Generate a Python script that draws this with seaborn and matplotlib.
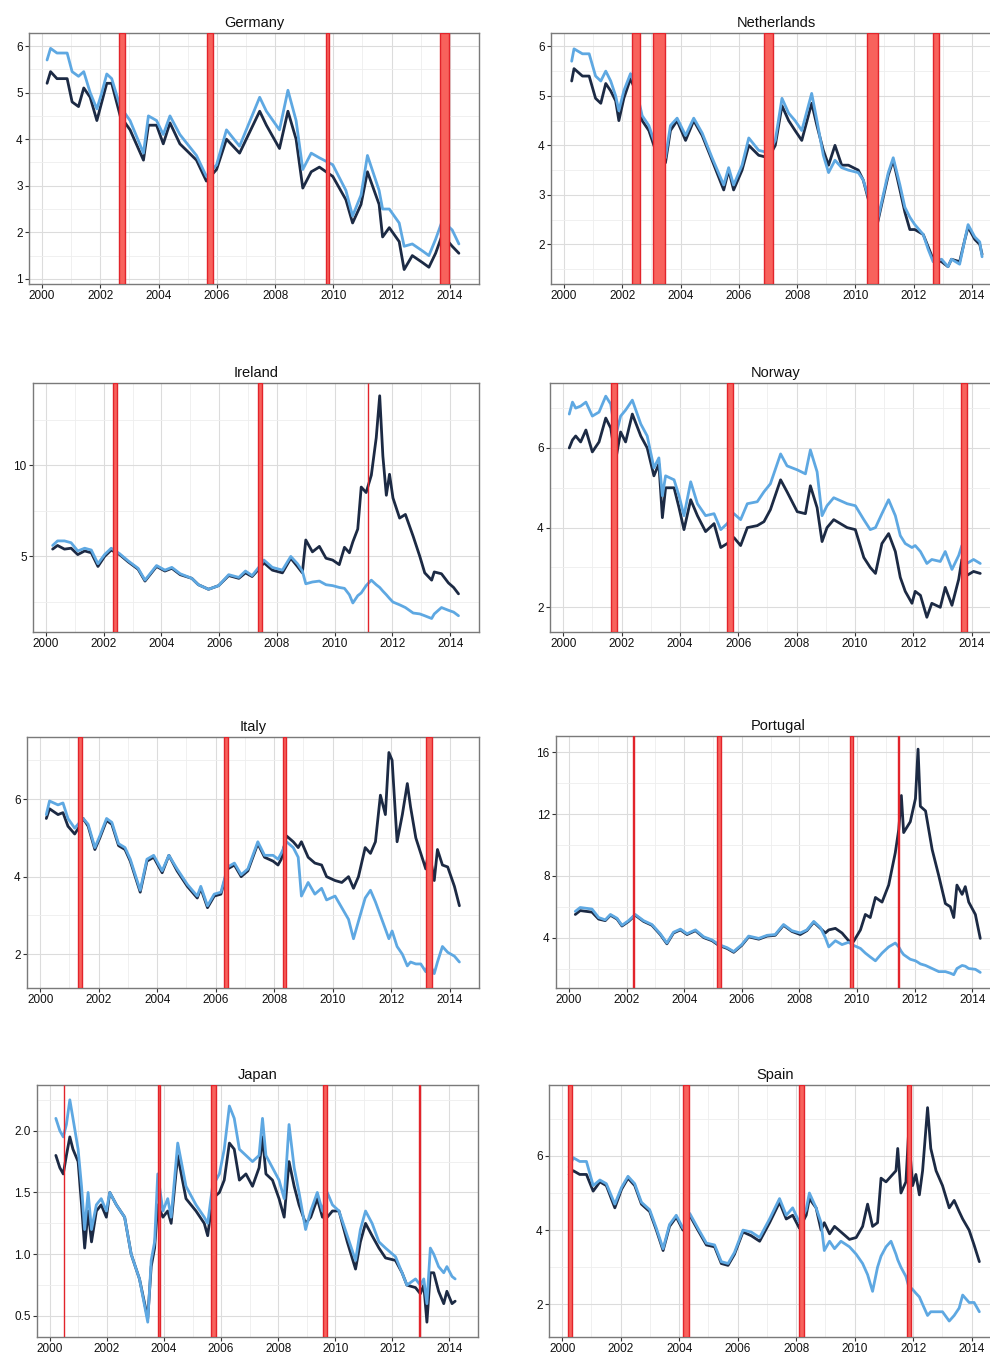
import matplotlib
matplotlib.use("Agg")
import matplotlib.pyplot as plt
import seaborn as sns
import pandas as pd
from matplotlib.ticker import MultipleLocator, FixedLocator, FormatStrFormatter

# ---------------- data ----------------
# Germany
t_de = [2000.17, 2000.29, 2000.51, 2000.86, 2001.03, 2001.25, 2001.43, 2001.65, 2001.88, 2002.05,
        2002.22, 2002.39, 2002.68, 2003.02, 2003.48, 2003.65, 2003.93, 2004.16, 2004.39, 2004.73,
        2005.30, 2005.64, 2005.99, 2006.33, 2006.78, 2007.47, 2007.70, 2008.15, 2008.44, 2008.72,
        2008.95, 2009.24, 2009.52, 2009.98, 2010.43, 2010.66, 2010.95, 2011.17, 2011.57, 2011.69,
        2011.92, 2012.26, 2012.43, 2012.71, 2013.06, 2013.28, 2013.51, 2013.74, 2014.08, 2014.31]
de_dark = [5.2, 5.45, 5.3, 5.3, 4.8, 4.7, 5.1, 4.9, 4.4, 4.8,
           5.2, 5.2, 4.5, 4.2, 3.55, 4.3, 4.3, 3.9, 4.35, 3.9,
           3.55, 3.1, 3.35, 4.0, 3.7, 4.6, 4.3, 3.8, 4.6, 4.0,
           2.95, 3.3, 3.4, 3.2, 2.7, 2.2, 2.6, 3.3, 2.6, 1.9,
           2.1, 1.8, 1.2, 1.5, 1.35, 1.25, 1.55, 1.95, 1.7, 1.55]
de_light = [5.7, 5.95, 5.85, 5.85, 5.45, 5.35, 5.45, 5.0, 4.65, 5.0,
            5.4, 5.3, 4.7, 4.4, 3.7, 4.5, 4.4, 4.1, 4.5, 4.1,
            3.65, 3.2, 3.45, 4.2, 3.85, 4.9, 4.6, 4.2, 5.05, 4.4,
            3.35, 3.7, 3.6, 3.45, 2.9, 2.35, 2.8, 3.65, 2.9, 2.5,
            2.5, 2.2, 1.7, 1.75, 1.6, 1.5, 1.85, 2.25, 2.05, 1.75]
de_band_start = [2002.65, 2005.65, 2009.73, 2013.66]
de_band_end = [2002.83, 2005.88, 2009.84, 2013.98]

# Netherlands
t_nl = [2000.26, 2000.34, 2000.63, 2000.86, 2001.08, 2001.26, 2001.43, 2001.6, 2001.77, 2001.88,
        2002.05, 2002.28, 2002.45, 2002.68, 2002.91, 2003.14, 2003.37, 2003.48, 2003.65, 2003.88,
        2004.17, 2004.45, 2004.74, 2005.08, 2005.48, 2005.65, 2005.82, 2006.11, 2006.34, 2006.68,
        2007.02, 2007.25, 2007.48, 2007.71, 2007.93, 2008.16, 2008.5, 2008.68, 2008.9, 2009.08,
        2009.3, 2009.53, 2009.76, 2010.1, 2010.27, 2010.45, 2010.73, 2010.9, 2011.13, 2011.3,
        2011.53, 2011.7, 2011.87, 2012.04, 2012.33, 2012.5, 2012.67, 2012.96, 2013.18, 2013.3,
        2013.58, 2013.76, 2013.87, 2014.1, 2014.27, 2014.35]
nl_dark = [5.3, 5.55, 5.4, 5.4, 4.95, 4.85, 5.25, 5.1, 4.9, 4.5,
           4.95, 5.35, 5.1, 4.5, 4.3, 3.9, 4.3, 3.65, 4.3, 4.5,
           4.1, 4.5, 4.2, 3.7, 3.1, 3.5, 3.1, 3.5, 4.0, 3.8,
           3.75, 4.0, 4.8, 4.5, 4.3, 4.1, 4.85, 4.4, 3.9, 3.6,
           4.0, 3.6, 3.6, 3.5, 3.3, 2.9, 2.35, 2.8, 3.4, 3.7,
           3.1, 2.65, 2.3, 2.3, 2.2, 1.95, 1.7, 1.65, 1.55, 1.7,
           1.65, 2.1, 2.35, 2.1, 2.0, 1.8]
nl_light = [5.7, 5.95, 5.85, 5.85, 5.4, 5.3, 5.5, 5.3, 5.0, 4.7,
            5.1, 5.45, 5.2, 4.6, 4.4, 4.0, 4.4, 3.75, 4.4, 4.55,
            4.2, 4.55, 4.25, 3.75, 3.2, 3.55, 3.2, 3.6, 4.15, 3.9,
            3.85, 4.1, 4.95, 4.65, 4.5, 4.3, 5.05, 4.5, 3.8, 3.45,
            3.7, 3.55, 3.5, 3.45, 3.3, 2.95, 2.4, 2.85, 3.45, 3.75,
            3.2, 2.75, 2.55, 2.4, 2.2, 1.9, 1.65, 1.7, 1.55, 1.7,
            1.6, 2.1, 2.4, 2.15, 2.05, 1.75]
nl_band_start = [2002.34, 2003.06, 2006.87, 2010.40, 2012.67]
nl_band_end = [2002.59, 2003.45, 2007.17, 2010.79, 2012.87]

# Ireland
t_ie = [2000.23, 2000.4, 2000.64, 2000.87, 2001.1, 2001.34, 2001.57, 2001.8, 2002.03, 2002.26,
        2002.55, 2002.85, 2003.19, 2003.43, 2003.83, 2004.12, 2004.36, 2004.65, 2005.05, 2005.28,
        2005.63, 2005.98, 2006.33, 2006.68, 2006.91, 2007.14, 2007.37, 2007.55, 2007.84, 2008.19,
        2008.48, 2008.71, 2008.88, 2009.0, 2009.23, 2009.47, 2009.7, 2009.93, 2010.16, 2010.34,
        2010.51, 2010.63, 2010.8, 2010.92, 2011.09, 2011.27, 2011.44, 2011.56, 2011.67, 2011.79,
        2011.9, 2012.02, 2012.25, 2012.45, 2012.72, 2012.95, 2013.12, 2013.36, 2013.45, 2013.7,
        2013.94, 2014.12, 2014.29]
ie_dark = [5.4, 5.6, 5.4, 5.45, 5.1, 5.3, 5.2, 4.45, 5.0, 5.35,
           5.1, 4.7, 4.3, 3.65, 4.45, 4.2, 4.35, 4.0, 3.8, 3.45,
           3.2, 3.4, 3.95, 3.8, 4.1, 3.9, 4.3, 4.65, 4.25, 4.1,
           4.9, 4.45, 4.1, 5.9, 5.25, 5.55, 4.9, 4.8, 4.55, 5.5,
           5.2, 5.8, 6.5, 8.8, 8.5, 9.45, 11.5, 13.8, 10.5, 8.35,
           9.5, 8.2, 7.1, 7.3, 6.1, 5.0, 4.1, 3.7, 4.15, 4.05,
           3.55, 3.3, 2.95]
ie_light = [5.6, 5.85, 5.85, 5.75, 5.3, 5.45, 5.35, 4.6, 5.1, 5.45,
            5.15, 4.75, 4.35, 3.7, 4.5, 4.25, 4.4, 4.05, 3.8, 3.45,
            3.2, 3.4, 4.0, 3.85, 4.2, 3.95, 4.4, 4.8, 4.4, 4.25,
            5.0, 4.6, 4.2, 3.5, 3.6, 3.65, 3.45, 3.4, 3.3, 3.25,
            2.9, 2.45, 2.85, 3.0, 3.4, 3.7, 3.45, 3.3, 3.1, 2.9,
            2.7, 2.5, 2.35, 2.2, 1.9, 1.85, 1.75, 1.6, 1.85, 2.2,
            2.05, 1.95, 1.75]
ie_band_start = [2002.32, 2007.34, 2011.16]
ie_band_end = [2002.46, 2007.48, 2011.17]

# Norway
t_no = [2000.21, 2000.32, 2000.43, 2000.6, 2000.78, 2001.0, 2001.23, 2001.46, 2001.63, 2001.8,
        2001.97, 2002.14, 2002.37, 2002.66, 2002.88, 2003.11, 2003.28, 2003.4, 2003.51, 2003.8,
        2003.97, 2004.14, 2004.37, 2004.6, 2004.88, 2005.17, 2005.4, 2005.62, 2005.85, 2006.08,
        2006.31, 2006.65, 2006.88, 2007.1, 2007.45, 2007.67, 2008.02, 2008.3, 2008.47, 2008.7,
        2008.87, 2009.04, 2009.27, 2009.73, 2010.01, 2010.3, 2010.52, 2010.7, 2010.92, 2011.15,
        2011.38, 2011.55, 2011.72, 2011.95, 2012.06, 2012.24, 2012.46, 2012.63, 2012.92, 2013.09,
        2013.32, 2013.55, 2013.66, 2013.83, 2014.06, 2014.29]
no_dark = [6.0, 6.2, 6.3, 6.15, 6.45, 5.9, 6.15, 6.75, 6.5, 5.7,
           6.4, 6.15, 6.85, 6.3, 6.0, 5.3, 5.6, 4.25, 5.0, 5.0,
           4.5, 3.95, 4.7, 4.3, 3.9, 4.1, 3.5, 3.6, 3.75, 3.55,
           4.0, 4.05, 4.15, 4.45, 5.2, 4.9, 4.4, 4.35, 5.05, 4.5,
           3.65, 4.0, 4.2, 4.0, 3.95, 3.25, 3.0, 2.85, 3.6, 3.85,
           3.4, 2.75, 2.4, 2.1, 2.4, 2.3, 1.75, 2.1, 2.0, 2.5,
           2.05, 2.7, 3.2, 2.8, 2.9, 2.85]
no_light = [6.85, 7.15, 7.0, 7.05, 7.15, 6.8, 6.9, 7.3, 7.1, 6.3,
            6.8, 6.95, 7.2, 6.6, 6.3, 5.5, 5.75, 4.8, 5.3, 5.2,
            4.8, 4.3, 5.15, 4.6, 4.3, 4.35, 3.95, 4.1, 4.35, 4.2,
            4.6, 4.65, 4.9, 5.1, 5.85, 5.55, 5.45, 5.35, 5.95, 5.4,
            4.3, 4.55, 4.75, 4.6, 4.55, 4.2, 3.95, 4.0, 4.35, 4.7,
            4.3, 3.8, 3.6, 3.5, 3.55, 3.4, 3.1, 3.2, 3.15, 3.4,
            2.95, 3.3, 3.55, 3.1, 3.2, 3.1]
no_band_start = [2001.63, 2005.62, 2013.63]
no_band_end = [2001.84, 2005.83, 2013.83]

# Italy
t_it = [2000.21, 2000.32, 2000.61, 2000.78, 2000.95, 2001.18, 2001.35, 2001.47, 2001.64, 2001.87,
        2002.04, 2002.27, 2002.45, 2002.68, 2002.9, 2003.08, 2003.25, 2003.42, 2003.65, 2003.88,
        2004.17, 2004.4, 2004.68, 2005.03, 2005.37, 2005.49, 2005.72, 2005.95, 2006.18, 2006.41,
        2006.64, 2006.87, 2007.1, 2007.44, 2007.67, 2007.96, 2008.13, 2008.24, 2008.42, 2008.65,
        2008.82, 2008.93, 2009.16, 2009.39, 2009.62, 2009.79, 2010.08, 2010.31, 2010.54, 2010.71,
        2010.88, 2011.11, 2011.29, 2011.46, 2011.63, 2011.8, 2011.92, 2012.03, 2012.2, 2012.38,
        2012.55, 2012.66, 2012.84, 2013.01, 2013.18, 2013.29, 2013.47, 2013.58, 2013.75, 2013.93,
        2014.16, 2014.33]
it_dark = [5.5, 5.75, 5.6, 5.65, 5.3, 5.1, 5.3, 5.5, 5.3, 4.7,
           5.0, 5.45, 5.35, 4.8, 4.7, 4.4, 4.0, 3.6, 4.4, 4.5,
           4.1, 4.55, 4.15, 3.75, 3.45, 3.7, 3.2, 3.5, 3.55, 4.2,
           4.3, 4.0, 4.15, 4.85, 4.5, 4.4, 4.3, 4.45, 5.05, 4.9,
           4.75, 4.9, 4.5, 4.35, 4.3, 4.0, 3.9, 3.85, 4.0, 3.7,
           4.0, 4.75, 4.6, 4.9, 6.1, 5.6, 7.2, 7.0, 4.9, 5.6,
           6.4, 5.8, 5.0, 4.6, 4.2, 4.7, 3.9, 4.7, 4.3, 4.25,
           3.75, 3.25]
it_light = [5.6, 5.95, 5.85, 5.9, 5.5, 5.25, 5.4, 5.5, 5.35, 4.75,
            5.05, 5.5, 5.4, 4.85, 4.75, 4.45, 4.05, 3.65, 4.45, 4.55,
            4.15, 4.55, 4.2, 3.8, 3.5, 3.75, 3.25, 3.55, 3.6, 4.25,
            4.35, 4.05, 4.2, 4.9, 4.55, 4.55, 4.45, 4.6, 4.9, 4.75,
            4.5, 3.5, 3.85, 3.55, 3.7, 3.4, 3.5, 3.2, 2.9, 2.4,
            2.85, 3.45, 3.65, 3.35, 3.0, 2.65, 2.4, 2.6, 2.2, 2.0,
            1.7, 1.8, 1.75, 1.75, 1.55, 1.8, 1.5, 1.8, 2.2, 2.05,
            1.95, 1.8]
it_band_start = [2001.31, 2006.27, 2008.30, 2013.20]
it_band_end = [2001.42, 2006.41, 2008.42, 2013.40]

# Portugal
t_pt = [2000.22, 2000.39, 2000.8, 2001.03, 2001.26, 2001.44, 2001.67, 2001.84, 2002.07, 2002.3,
        2002.59, 2002.88, 2003.17, 2003.4, 2003.63, 2003.87, 2004.1, 2004.39, 2004.68, 2004.97,
        2005.2, 2005.49, 2005.72, 2006.0, 2006.24, 2006.59, 2006.88, 2007.16, 2007.45, 2007.74,
        2008.03, 2008.26, 2008.5, 2008.73, 2008.9, 2009.02, 2009.25, 2009.48, 2009.71, 2009.88,
        2010.12, 2010.29, 2010.46, 2010.64, 2010.87, 2011.1, 2011.33, 2011.45, 2011.54, 2011.62,
        2011.85, 2012.03, 2012.12, 2012.2, 2012.38, 2012.61, 2012.84, 2013.07, 2013.24, 2013.36,
        2013.47, 2013.65, 2013.76, 2013.88, 2014.11, 2014.28]
pt_dark = [5.5, 5.75, 5.65, 5.2, 5.1, 5.45, 5.2, 4.75, 5.05, 5.45,
           5.05, 4.8, 4.2, 3.6, 4.3, 4.5, 4.2, 4.45, 4.0, 3.8,
           3.5, 3.3, 3.05, 3.5, 4.05, 3.9, 4.1, 4.15, 4.8, 4.4,
           4.2, 4.45, 5.0, 4.6, 4.3, 4.5, 4.6, 4.3, 3.8, 3.75,
           4.5, 5.5, 5.3, 6.6, 6.3, 7.4, 9.5, 11.0, 13.2, 10.8,
           11.5, 13.0, 16.2, 12.5, 12.2, 9.7, 8.0, 6.2, 6.0, 5.3,
           7.4, 6.8, 7.3, 6.3, 5.5, 3.95]
pt_light = [5.7, 5.95, 5.85, 5.3, 5.15, 5.5, 5.25, 4.8, 5.1, 5.5,
            5.1, 4.85, 4.25, 3.65, 4.35, 4.55, 4.25, 4.5, 4.05, 3.85,
            3.55, 3.35, 3.1, 3.55, 4.1, 3.95, 4.15, 4.2, 4.85, 4.45,
            4.3, 4.5, 5.05, 4.65, 4.0, 3.4, 3.8, 3.55, 3.7, 3.5,
            3.3, 3.0, 2.75, 2.5, 3.0, 3.4, 3.65, 3.4, 3.1, 2.9,
            2.6, 2.5, 2.4, 2.3, 2.2, 2.0, 1.8, 1.8, 1.7, 1.6,
            2.0, 2.2, 2.15, 2.0, 1.95, 1.75]
pt_band_start = [2002.24, 2005.14, 2009.75, 2011.44]
pt_band_end = [2002.25, 2005.27, 2009.86, 2011.45]

# Japan
t_jp = [2000.21, 2000.35, 2000.47, 2000.58, 2000.7, 2000.81, 2000.99, 2001.11, 2001.22, 2001.34,
        2001.46, 2001.63, 2001.8, 2001.98, 2002.1, 2002.33, 2002.62, 2002.85, 2003.14, 2003.43,
        2003.55, 2003.67, 2003.78, 2003.96, 2004.13, 2004.25, 2004.48, 2004.77, 2005.12, 2005.41,
        2005.53, 2005.7, 2005.94, 2006.11, 2006.29, 2006.46, 2006.64, 2006.87, 2007.1, 2007.33,
        2007.45, 2007.57, 2007.8, 2008.03, 2008.21, 2008.38, 2008.56, 2008.73, 2008.96, 2009.14,
        2009.37, 2009.55, 2009.72, 2009.9, 2010.13, 2010.42, 2010.71, 2010.88, 2011.06, 2011.29,
        2011.53, 2011.76, 2012.11, 2012.34, 2012.51, 2012.81, 2012.98, 2013.1, 2013.21, 2013.33,
        2013.45, 2013.62, 2013.8, 2013.91, 2014.09, 2014.2]
jp_dark = [1.8, 1.7, 1.65, 1.8, 1.95, 1.85, 1.75, 1.4, 1.05, 1.35,
           1.1, 1.35, 1.4, 1.3, 1.5, 1.4, 1.3, 1.0, 0.8, 0.48,
           0.9, 1.05, 1.4, 1.3, 1.35, 1.25, 1.8, 1.45, 1.35, 1.25,
           1.15, 1.45, 1.5, 1.6, 1.9, 1.85, 1.6, 1.65, 1.55, 1.7,
           1.95, 1.65, 1.6, 1.45, 1.3, 1.75, 1.55, 1.4, 1.25, 1.3,
           1.45, 1.3, 1.3, 1.35, 1.35, 1.1, 0.88, 1.1, 1.25, 1.15,
           1.05, 0.97, 0.95, 0.85, 0.75, 0.73, 0.68, 0.75, 0.45, 0.85,
           0.85, 0.7, 0.6, 0.7, 0.6, 0.62]
jp_light = [2.1, 2.0, 1.95, 2.05, 2.25, 2.1, 1.85, 1.55, 1.2, 1.5,
            1.2, 1.4, 1.45, 1.35, 1.5, 1.4, 1.3, 1.0, 0.8, 0.45,
            0.95, 1.1, 1.65, 1.35, 1.45, 1.3, 1.9, 1.55, 1.4, 1.3,
            1.25, 1.55, 1.65, 1.85, 2.2, 2.1, 1.85, 1.8, 1.75, 1.8,
            2.1, 1.8, 1.7, 1.6, 1.45, 2.05, 1.7, 1.5, 1.2, 1.35,
            1.5, 1.35, 1.5, 1.4, 1.35, 1.15, 0.95, 1.2, 1.35, 1.25,
            1.1, 1.05, 0.98, 0.85, 0.75, 0.8, 0.75, 0.8, 0.6, 1.05,
            1.0, 0.9, 0.85, 0.9, 0.82, 0.8]
jp_band_start = [2000.48, 2003.78, 2005.65, 2009.58, 2012.94]
jp_band_end = [2000.49, 2003.85, 2005.82, 2009.71, 2012.96]

# Spain
t_es = [2000.24, 2000.38, 2000.6, 2000.83, 2001.06, 2001.29, 2001.51, 2001.8, 2002.03, 2002.25,
        2002.48, 2002.71, 2002.99, 2003.22, 2003.45, 2003.67, 2003.9, 2004.13, 2004.36, 2004.64,
        2004.93, 2005.21, 2005.44, 2005.67, 2005.89, 2006.18, 2006.46, 2006.75, 2007.09, 2007.43,
        2007.66, 2007.88, 2008.11, 2008.34, 2008.45, 2008.68, 2008.85, 2008.96, 2009.14, 2009.31,
        2009.53, 2009.82, 2010.05, 2010.27, 2010.44, 2010.61, 2010.78, 2010.9, 2011.07, 2011.24,
        2011.41, 2011.47, 2011.58, 2011.75, 2011.84, 2011.98, 2012.09, 2012.21, 2012.32, 2012.49,
        2012.6, 2012.78, 2013.0, 2013.23, 2013.4, 2013.57, 2013.69, 2013.91, 2014.08, 2014.26]
es_dark = [5.5, 5.6, 5.5, 5.5, 5.05, 5.3, 5.2, 4.6, 5.1, 5.4,
           5.2, 4.7, 4.5, 4.0, 3.45, 4.1, 4.35, 4.0, 4.4, 4.0,
           3.6, 3.55, 3.1, 3.05, 3.35, 3.95, 3.85, 3.7, 4.2, 4.75,
           4.3, 4.4, 4.05, 4.4, 4.85, 4.6, 4.0, 4.2, 3.9, 4.1,
           3.95, 3.75, 3.8, 4.1, 4.7, 4.1, 4.2, 5.4, 5.3, 5.45,
           5.6, 6.2, 5.0, 5.3, 6.6, 5.2, 5.5, 4.95, 5.6, 7.3,
           6.2, 5.6, 5.2, 4.6, 4.8, 4.5, 4.3, 4.0, 3.6, 3.15]
es_light = [5.7, 5.95, 5.85, 5.85, 5.2, 5.35, 5.25, 4.7, 5.15, 5.45,
            5.25, 4.75, 4.55, 4.05, 3.5, 4.15, 4.4, 4.05, 4.45, 4.05,
            3.65, 3.6, 3.15, 3.1, 3.4, 4.0, 3.95, 3.8, 4.3, 4.85,
            4.4, 4.6, 4.2, 4.55, 5.0, 4.6, 4.2, 3.45, 3.7, 3.5,
            3.7, 3.55, 3.35, 3.1, 2.8, 2.35, 3.0, 3.3, 3.55, 3.7,
            3.35, 3.2, 3.0, 2.75, 2.5, 2.4, 2.3, 2.2, 2.0, 1.7,
            1.8, 1.8, 1.8, 1.55, 1.7, 1.9, 2.25, 2.05, 2.05, 1.8]
es_band_start = [2000.20, 2004.13, 2008.11, 2011.79]
es_band_end = [2000.34, 2004.32, 2008.25, 2011.92]

titles = ["Germany", "Netherlands", "Ireland", "Norway", "Italy", "Portugal", "Japan", "Spain"]
x_ticks = [2000, 2002, 2004, 2006, 2008, 2010, 2012, 2014]
y_ticks = {
    "Germany": [1, 2, 3, 4, 5, 6],
    "Netherlands": [2, 3, 4, 5, 6],
    "Ireland": [5, 10],
    "Norway": [2, 4, 6],
    "Italy": [2, 4, 6],
    "Portugal": [4, 8, 12, 16],
    "Japan": [0.5, 1.0, 1.5, 2.0],
    "Spain": [2, 4, 6],
}

# ---------------- style ----------------
W, H = 990, 1357
sns.set_theme(style="white")
plt.rcParams['font.family'] = ['Liberation Sans', 'DejaVu Sans']

DARK = '#1c2a44'
LIGHT = '#5ea8e2'
RED_FACE = '#f8625c'
RED_EDGE = '#e2242b'

panels = {
    "Germany": (t_de, de_dark, de_light, de_band_start, de_band_end),
    "Netherlands": (t_nl, nl_dark, nl_light, nl_band_start, nl_band_end),
    "Ireland": (t_ie, ie_dark, ie_light, ie_band_start, ie_band_end),
    "Norway": (t_no, no_dark, no_light, no_band_start, no_band_end),
    "Italy": (t_it, it_dark, it_light, it_band_start, it_band_end),
    "Portugal": (t_pt, pt_dark, pt_light, pt_band_start, pt_band_end),
    "Japan": (t_jp, jp_dark, jp_light, jp_band_start, jp_band_end),
    "Spain": (t_es, es_dark, es_light, es_band_start, es_band_end),
}

# axes boxes in pixels: left, top, right, bottom
boxes = {
    "Germany": (29, 33, 479, 284),
    "Netherlands": (551, 33, 1001, 284),
    "Ireland": (33, 383, 479, 632),
    "Norway": (550, 383, 1001, 632),
    "Italy": (27, 737, 479, 988),
    "Portugal": (556, 736, 1001, 988),
    "Japan": (37, 1085, 478, 1337),
    "Spain": (549, 1085, 1001, 1337),
}
ylims = {
    "Germany": (0.89, 6.28),
    "Netherlands": (1.2, 6.27),
    "Ireland": (0.86, 14.5),
    "Norway": (1.38, 7.63),
    "Italy": (1.13, 7.6),
    "Portugal": (0.74, 17.05),
    "Japan": (0.33, 2.37),
    "Spain": (1.12, 7.91),
}

fig = plt.figure(figsize=(W / 100, H / 100), dpi=100)
fig.patch.set_facecolor('white')

for name in titles:
    t, dark, light, bs, be = panels[name]
    assert len(t) == len(dark) == len(light), name
    l, tp, r, b = boxes[name]
    ax = fig.add_axes([l / W, 1 - b / H, (r - l) / W, (b - tp) / H])
    df = pd.DataFrame({"year": t + t, "value": dark + light,
                       "series": ["dark"] * len(t) + ["light"] * len(t)})
    sns.lineplot(data=df, x="year", y="value", hue="series",
                 palette={"dark": DARK, "light": LIGHT},
                 estimator=None, sort=False, linewidth=2.0, legend=False, ax=ax, zorder=3)
    for s, e in zip(bs, be):
        ax.axvspan(s, e, facecolor=RED_FACE, edgecolor=RED_EDGE, linewidth=1.0, zorder=5)

    ax.set_xlim(1999.55, 2015.0)
    ax.set_ylim(*ylims[name])
    ax.xaxis.set_major_locator(FixedLocator(x_ticks))
    ax.xaxis.set_minor_locator(MultipleLocator(1))
    yt = y_ticks[name]
    ax.yaxis.set_major_locator(FixedLocator(yt))
    step = yt[1] - yt[0]
    ax.yaxis.set_minor_locator(MultipleLocator(step / 2))
    if name == "Japan":
        ax.yaxis.set_major_formatter(FormatStrFormatter('%.1f'))
    else:
        ax.yaxis.set_major_formatter(FormatStrFormatter('%d'))
    ax.grid(which='major', color='#dcdcdc', linewidth=0.8, zorder=0)
    ax.grid(which='minor', color='#eeeeee', linewidth=0.6, zorder=0)
    ax.set_axisbelow(True)
    ax.tick_params(axis='both', which='major', direction='out', length=3, width=0.8,
                   color='#333333', labelsize=8.5, labelcolor='#111111', pad=1.5,
                   bottom=True, left=True)
    ax.tick_params(axis='both', which='minor', length=0)
    for sp in ax.spines.values():
        sp.set_color('#7a7a7a')
        sp.set_linewidth(1.0)
    ax.set_xlabel("")
    ax.set_ylabel("")
    ax.set_title(name, fontsize=10.5, color='#111111', pad=4)

fig.savefig("out.png", dpi=100, facecolor='white')
